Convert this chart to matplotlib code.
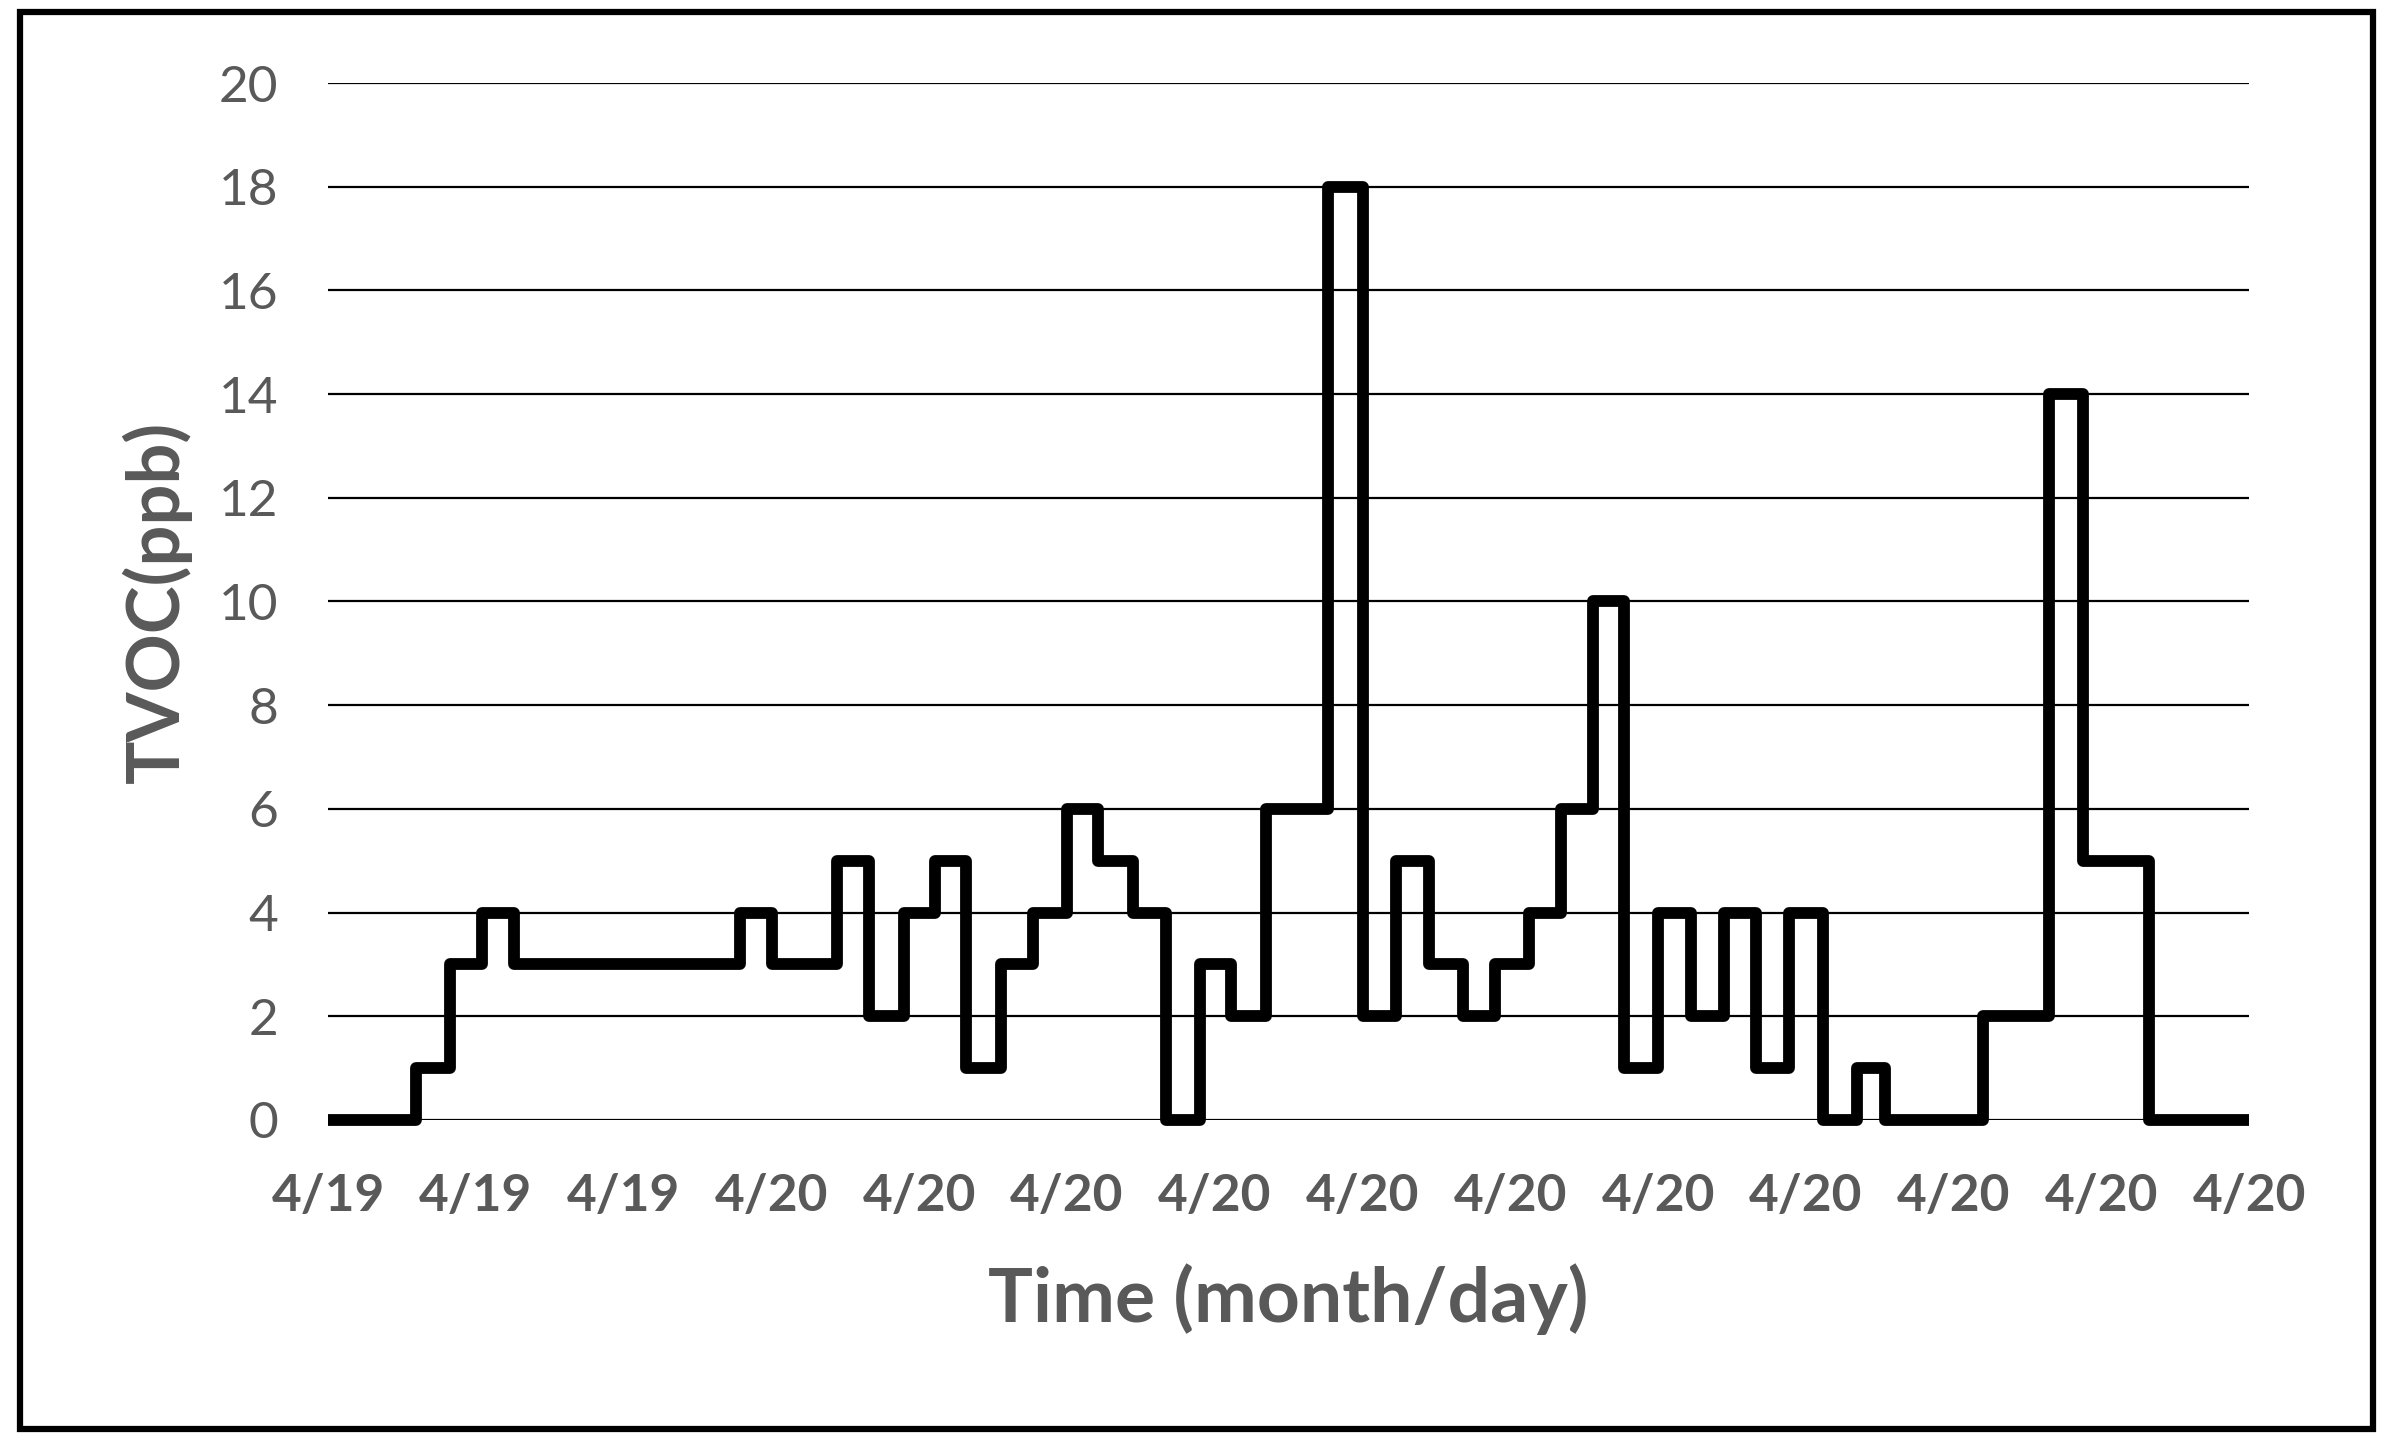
import numpy as np
import matplotlib.pyplot as plt
from matplotlib.patches import Rectangle

# times where the reading changes (in x-tick intervals) and the values held after each change
change_x = [0.593, 0.828, 1.040, 1.257, 2.786, 3.001, 3.445, 3.661, 3.896, 4.110,
            4.320, 4.552, 4.767, 5.001, 5.213, 5.448, 5.669, 5.899, 6.109, 6.344,
            6.767, 7.004, 7.225, 7.451, 7.677, 7.897, 8.127, 8.342, 8.557, 8.770,
            9.000, 9.220, 9.445, 9.666, 9.887, 10.113, 10.343, 10.535, 11.196, 11.645,
            11.877, 12.323]
tvoc = [0, 1, 3, 4, 3, 4, 3, 5, 2, 4, 5, 1, 3, 4, 6, 5, 4, 0, 3, 2, 6,
        18, 2, 5, 3, 2, 3, 4, 6, 10, 1, 4, 2, 4, 1, 4, 0, 1, 0, 2, 14, 5, 0]
tick_labels = ['4/19', '4/19', '4/19', '4/20', '4/20', '4/20', '4/20',
               '4/20', '4/20', '4/20', '4/20', '4/20', '4/20', '4/20']
y_ticks = [0, 2, 4, 6, 8, 10, 12, 14, 16, 18, 20]

plt.rcParams['font.family'] = ['Lato', 'DejaVu Sans']
grey = '#595959'

fig = plt.figure(figsize=(23.93, 14.44), dpi=100)
ax = fig.add_axes([0.1371, 0.2244, 0.8028, 0.7181])

x = np.array([0] + change_x + [len(tick_labels) - 1])
y = np.array(tvoc + [tvoc[-1]])
ax.step(x, y, where='post', color='black', lw=8.5, clip_on=False, zorder=3,
        solid_capstyle='butt')

ax.set_xlim(0, len(tick_labels) - 1)
ax.set_ylim(0, 20)
ax.set_yticks(y_ticks)
ax.set_xticks(range(len(tick_labels)))
ax.set_xticklabels(tick_labels, fontsize=37, fontweight='bold', color=grey)
ax.tick_params(axis='y', labelsize=37, labelcolor=grey, length=0, pad=36)
ax.tick_params(axis='x', length=0, pad=38)
ax.yaxis.grid(True, color='black', lw=1.6)
ax.set_axisbelow(True)
for s in ax.spines.values():
    s.set_visible(False)

ax.set_xlabel('Time (month/day)', fontsize=54, fontweight='bold', color=grey, va='center')
ax.xaxis.set_label_coords(0.5, -0.1726)
ax.set_ylabel('TVOC(ppb)', fontsize=52, fontweight='bold', color=grey, va='center')
ax.yaxis.set_label_coords(-0.089, 0.5)

# outer frame
fig.patches.append(Rectangle((0.0085, 0.0104), 0.983, 0.981, transform=fig.transFigure,
                             fill=False, edgecolor='black', lw=4.5))

fig.savefig('out.png', dpi=100, facecolor='white')
